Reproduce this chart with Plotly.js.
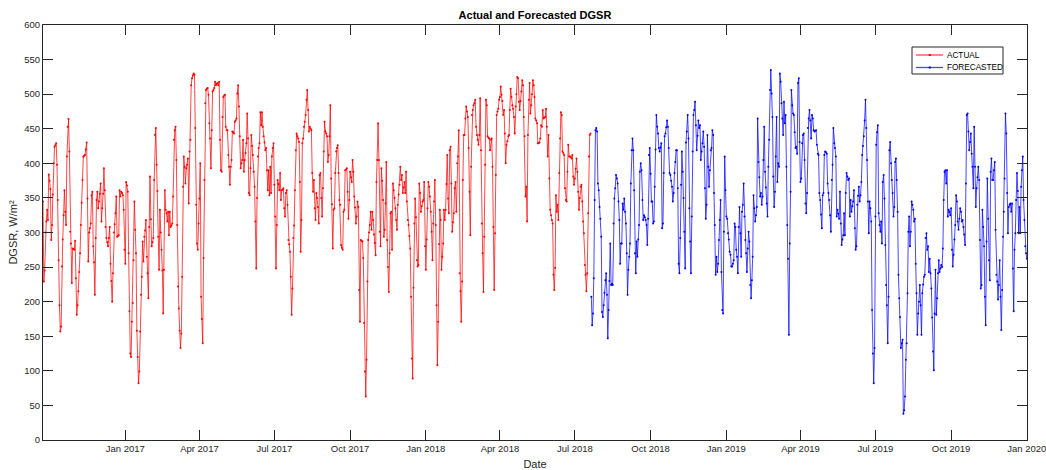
<!DOCTYPE html>
<html>
<head>
<meta charset="utf-8">
<script src="https://cdn.plot.ly/plotly-3.0.1.min.js"></script>
<style>
html,body{margin:0;padding:0;background:#fff;}
#chart{width:1046px;height:470px;}
</style>
</head>
<body>
<div id="chart"></div>
<script>
// ---- Data (daily DGSR, W/m²) ----
const actualStart = "2016-09-23";
const actualValues = [
345,229,245,300,316,333,318,384,375,363,
289,311,355,400,424,426,429,398,347,260,
195,157,164,251,290,325,361,330,311,410,
453,464,417,301,284,227,277,276,275,288,
234,181,195,215,243,270,311,343,376,410,
411,412,420,430,349,258,300,306,313,354,
359,280,257,210,292,347,359,335,345,356,
371,316,335,356,393,361,308,292,286,280,
292,308,255,230,200,241,300,312,328,352,
294,295,296,361,352,359,357,354,333,275,
255,373,368,359,270,186,125,120,171,198,
260,345,304,270,158,120,82,99,157,210,
236,287,258,294,303,318,265,241,205,308,
381,319,280,286,292,376,441,451,398,360,
294,246,333,300,275,245,183,246,361,333,
328,316,330,296,330,308,310,313,352,434,
448,453,405,311,222,190,158,133,154,236,
366,410,395,371,393,398,407,342,417,434,
513,523,527,530,528,451,340,284,275,313,
349,400,207,175,140,263,376,487,506,508,
509,499,458,
436,393,448,504,506,509,518,513,515,516,
513,518,434,390,388,467,496,498,499,453,
448,448,412,395,369,395,405,446,445,443,
460,462,465,501,513,482,439,393,400,405,
434,388,405,415,429,472,436,357,354,393,
441,425,412,388,366,316,248,350,410,422,
429,474,455,474,453,439,430,419,422,390,
361,390,354,395,357,410,422,429,369,323,
248,311,376,370,361,386,347,361,362,364,
335,323,357,361,340,289,283,272,236,181,
219,292,310,361,419,443,439,436,431,373,
272,318,429,436,453,460,470,492,506,477,
446,453,450,448,386,359,376,335,318,357,
350,337,313,383,386,350,323,364,417,460,
446,443,439,402,412,439,484,378,341,277,
333,335,386,417,422,426,386,347,340,282,
278,275,330,333,390,391,393,359,320,347,
388,380,373,405,388,352,336,313,323,345,
337,217,171,289,288,287,263,169,99,63,
116,229,289,300,311,330,304,330,318,297,
285,267,373,405,458,405,301,280,393,375,
347,294,304,342,402,289,250,214,270,328,
330,275,371,361,350,335,318,304,340,355,
369,395,376,383,357,365,373,357,388,345,
318,311,295,277,207,118,89,220,313,349,
322,260,251,253,371,357,330,338,345,347,
373,280,246,290,335,373,366,352,330,301,
260,313,345,376,311,195,108,171,283,333,
318,246,265,284,333,318,333,370,412,349,
328,419,424,371,301,315,328,364,373,330,
400,410,448,241,215,171,229,376,441,441,
465,482,475,467,422,359,296,395,470,477,
484,487,492,453,441,434,427,441,494,419,
313,270,214,294,398,492,484,439,437,436,
419,434,436,395,308,217,299,383,470,475,
479,492,496,511,499,490,470,477,443,400,
427,432,439,441,477,508,496,484,479,467,
443,482,500,525,523,489,477,490,504,520,
513,467,439,352,366,316,441,492,516,472,
484,500,520,513,496,465,462,458,429,429,
430,436,455,453,477,465,466,467,479,453,
410,441,378,333,325,318,313,239,217,249,
354,330,340,318,386,436,474,470,417,415,
412,364,347,345,388,427,410,410,409,407,
412,381,369,378,392,407,388,359,333,350,
366,369,345,316,299,253,239,215,241,328,
410,441,443
];

const forecastStart = "2018-07-21";
const forecastValues = [
207,166,183,234,347,448,451,446,371,361,
337,320,294,185,178,195,213,231,241,210,
147,188,230,284,224,226,224,313,349,364,
383,378,371,345,318,255,284,284,342,333,
349,330,313,270,210,246,265,284,371,419,
436,419,361,270,241,287,265,290,311,388,
400,390,347,318,325,322,318,311,282,320,
412,422,385,345,345,313,316,366,420,470,
453,443,422,417,423,429,306,313,386,439,
443,452,462,453,422,386,383,375,366,345,
357,386,402,419,419,364,255,241,292,369,
417,388,350,301,248,430,446,470,436,335,
287,241,323,417,470,477,489,455,419,440,
462,451,455,405,417,429,446,424,
364,320,340,441,395,366,390,419,422,448,
441,357,311,239,265,243,255,289,318,347,
243,188,183,301,410,361,323,320,299,290,
272,268,251,251,255,260,313,308,275,265,
241,308,337,299,265,330,340,371,323,289,
270,243,277,301,287,224,205,231,265,354,
335,316,325,337,465,402,380,352,357,340,
352,405,453,388,365,342,323,395,434,506,
535,501,467,381,337,359,410,467,373,400,
395,530,518,487,465,441,489,458,470,395,
311,262,152,284,359,506,484,472,470,445,
422,424,414,516,523,431,373,378,429,441,
443,405,342,328,357,451,465,477,462,436,
470,465,448,446,447,448,427,414,412,357,
347,326,306,354,357,412,417,416,414,371,
357,347,325,301,376,398,451,429,422,410,
323,333,327,320,359,313,282,290,296,328,
296,357,386,381,376,378,323,347,330,338,
345,361,306,275,280,340,353,366,345,354,
373,412,425,439,462,492,451,405,345,299,
345,335,316,188,125,82,133,323,427,445,
455,328,311,301,316,284,373,383,349,282,
224,195,140,207,419,431,400,376,357,323,
337,402,407,376,330,239,205,178,133,140,
145,38,43,63,116,140,212,301,323,280,
301,345,340,333,316,320,255,212,152,183,
200,224,195,152,212,225,236,239,292,299,
275,280,243,262,241,219,177,128,101,183,
246,181,205,241,260,243,248,253,250,277,
347,388,390,371,390,323,333,330,325,335,
275,251,268,290,311,354,345,316,304,320,
335,330,316,318,308,297,282,371,470,472,
446,419,431,443,414,395,364,453,395,337,
364,380,395,376,289,219,224,333,308,280,
207,166,287,378,320,260,231,388,407,376,
376,390,402,304,239,229,203,224,260,207,
159,217,294,330,378,472,443,357,299,337,
340,342,330,342,248,186,275,299,347,386,
360,299,337,299,366,390,410,347,318,280,
270,262
];

const seriesNames = ["ACTUAL", "FORECASTED"];
const seriesColors = ["#ff0000", "#0000ff"];
const seriesLineColors = ["rgba(255,0,0,0.72)", "rgba(0,0,255,0.72)"];
const tickDates = ["2017-01-01","2017-04-01","2017-07-01","2017-10-01",
                   "2018-01-01","2018-04-01","2018-07-01","2018-10-01",
                   "2019-01-01","2019-04-01","2019-07-01","2019-10-01","2020-01-01"];
const tickLabels = ["Jan 2017","Apr 2017","Jul 2017","Oct 2017",
                    "Jan 2018","Apr 2018","Jul 2018","Oct 2018",
                    "Jan 2019","Apr 2019","Jul 2019","Oct 2019","Jan 2020"];
const xRange = ["2016-09-23", "2020-01-01 04:00"];

// ---- helpers ----
function dailyDates(start, n) {
  const [y, m, d] = start.split("-").map(Number);
  const base = Date.UTC(y, m - 1, d);
  const out = [];
  for (let i = 0; i < n; i++) {
    out.push(new Date(base + i * 86400000).toISOString().slice(0, 10));
  }
  return out;
}

const FONT = "Liberation Sans, Arial, Helvetica, sans-serif";
const AXC = "#262626";

const W = 1046, H = 470;
const M = {l: 43, r: 19, t: 25, b: 30};
const PW = W - M.l - M.r, PH = H - M.t - M.b;
// pixel -> paper helpers for the compact MATLAB-like legend box
const px = v => (v - M.l) / PW;
const py = v => (H - M.b - v) / PH;

const traces = [actualValues, forecastValues].map((vals, i) => ({
  x: dailyDates(i === 0 ? actualStart : forecastStart, vals.length),
  y: vals,
  name: seriesNames[i],
  type: "scatter",
  mode: "lines+markers",
  line: {color: seriesLineColors[i], width: 1},
  marker: {color: seriesColors[i], size: 2},
  showlegend: false
}));

// Legend (compact box as in the reference)
const legBox = {x0: 912, x1: 1003, y0: 47, y1: 74};
const legRows = [55, 67.5];
const shapes = [
  {type: "rect", xref: "paper", yref: "paper",
   x0: px(legBox.x0), x1: px(legBox.x1), y0: py(legBox.y1), y1: py(legBox.y0),
   line: {color: AXC, width: 1}, fillcolor: "#ffffff", layer: "above"}
];
const annotations = [];
seriesNames.forEach((name, i) => {
  shapes.push({type: "line", xref: "paper", yref: "paper",
    x0: px(916), x1: px(943), y0: py(legRows[i]), y1: py(legRows[i]),
    line: {color: seriesLineColors[i], width: 1.3}, layer: "above"});
  shapes.push({type: "rect", xref: "paper", yref: "paper",
    x0: px(928.8), x1: px(930.8), y0: py(legRows[i] + 1), y1: py(legRows[i] - 1),
    line: {width: 0}, fillcolor: seriesColors[i], layer: "above"});
  annotations.push({xref: "paper", yref: "paper", x: px(945), y: py(legRows[i]),
    xanchor: "left", yanchor: "middle", text: name, showarrow: false,
    font: {family: FONT, size: 8.2, color: "#000000"}});
});

const layout = {
  width: W,
  height: H,
  margin: {l: M.l, r: M.r, t: M.t, b: M.b, pad: 0},
  paper_bgcolor: "#ffffff",
  plot_bgcolor: "#ffffff",
  font: {family: FONT, size: 10, color: AXC},
  title: {
    text: "<b>Actual and Forecasted DGSR</b>",
    font: {family: FONT, size: 11, color: "#000000"},
    x: 0.5, xref: "paper", xanchor: "center",
    y: 0.968, yref: "container", yanchor: "middle"
  },
  showlegend: false,
  shapes: shapes,
  annotations: annotations,
  xaxis: {
    type: "date",
    range: xRange,
    tickmode: "array",
    tickvals: tickDates,
    ticktext: tickLabels,
    ticks: "inside",
    ticklen: 10,
    tickwidth: 1,
    tickcolor: AXC,
    showline: true,
    linecolor: AXC,
    linewidth: 1,
    mirror: "ticks",
    showgrid: false,
    zeroline: false,
    ticklabeloverflow: "allow",
    tickfont: {family: FONT, size: 9.5, color: AXC},
    title: {text: "Date", font: {family: FONT, size: 11, color: AXC}, standoff: 9},
    automargin: false
  },
  yaxis: {
    range: [0, 600],
    tickmode: "linear",
    tick0: 0,
    dtick: 50,
    ticks: "inside",
    ticklen: 10,
    tickwidth: 1,
    tickcolor: AXC,
    showline: true,
    linecolor: AXC,
    linewidth: 1,
    mirror: "ticks",
    showgrid: false,
    zeroline: false,
    tickfont: {family: FONT, size: 9.5, color: AXC},
    title: {text: "DGSR, W/m²", font: {family: FONT, size: 11, color: AXC}, standoff: 4},
    automargin: false
  }
};

Plotly.newPlot("chart", traces, layout, {displayModeBar: false, staticPlot: true});
</script>
</body>
</html>
